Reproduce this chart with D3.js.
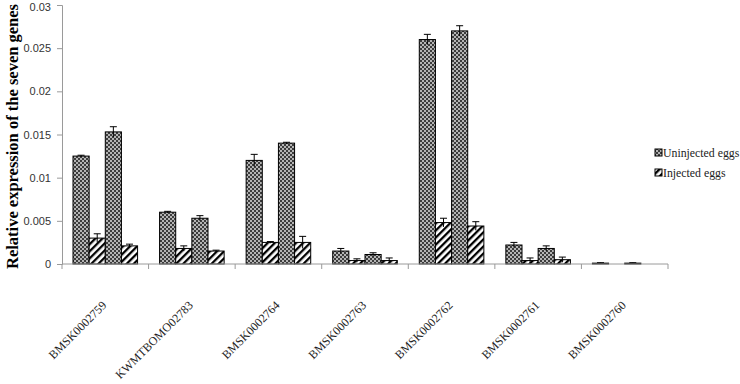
<!DOCTYPE html>
<html><head><meta charset="utf-8">
<script src="https://cdn.jsdelivr.net/npm/d3@7"></script>
<style>body{margin:0;background:#fff}svg{display:block}
.serif{font-family:"Liberation Serif","Times New Roman",serif}
.sans{font-family:"Liberation Sans",Arial,sans-serif}</style>
</head><body>
<svg id="c" width="740" height="384"></svg>
<script>
const genes = ["BMSK0002759","KWMTBOMO02783","BMSK0002764","BMSK0002763","BMSK0002762","BMSK0002761","BMSK0002760"];
// four bars per gene: uninjected, injected, uninjected, injected
const barGroups = ["Uninjected eggs","Injected eggs","Uninjected eggs","Injected eggs"];
const values1 = [0.0125,0.0060,0.0120,0.0015,0.0260,0.0022,0.0001];
const values2 = [0.0030,0.0018,0.0025,0.0004,0.0048,0.0004,0.0000];
const values3 = [0.0153,0.0053,0.0140,0.0011,0.0270,0.0018,0.0001];
const values4 = [0.0021,0.0015,0.0025,0.0004,0.0044,0.0005,0.0000];
const err1 = [0.0001,0.0001,0.0007,0.0003,0.0006,0.0003,0.00005];
const err2 = [0.0005,0.0003,0.0001,0.0002,0.0005,0.0003,0];
const err3 = [0.0006,0.0003,0.0001,0.0002,0.0006,0.0003,0.00005];
const err4 = [0.0002,0.0001,0.0007,0.0003,0.0005,0.0003,0];
const yTicks = [0,0.005,0.01,0.015,0.02,0.025,0.03];
const legendLabels = ["Uninjected eggs","Injected eggs"];

(function(){
const series = [values1,values2,values3,values4];
const errs = [err1,err2,err3,err4];

const svg = d3.select("#c");
const defs = svg.append("defs");
const chk = defs.append("pattern").attr("id","chk").attr("patternUnits","userSpaceOnUse").attr("width",4).attr("height",4);
chk.append("rect").attr("width",4).attr("height",4).attr("fill","#b4b4b4");
chk.append("rect").attr("width",2).attr("height",2).attr("fill","#3c3c3c");
chk.append("rect").attr("x",2).attr("y",2).attr("width",2).attr("height",2).attr("fill","#3c3c3c");
const hatch = defs.append("pattern").attr("id","hatch").attr("patternUnits","userSpaceOnUse").attr("width",5).attr("height",5).attr("patternTransform","rotate(45)");
hatch.append("rect").attr("width",5).attr("height",5).attr("fill","#fff");
hatch.append("rect").attr("width",2.3).attr("height",5).attr("fill","#000");

const fills = ["url(#chk)","url(#hatch)","url(#chk)","url(#hatch)"];

const mL = 62, mR = 668, mT = 5, mB = 264;
const x = d3.scaleBand().domain(genes).range([mL,mR]).paddingInner(0).paddingOuter(0);
const xi = d3.scaleBand().domain([0,1,2,3]).range([11, x.bandwidth()-11]);
const y = d3.scaleLinear().domain([0,0.03]).range([mB,mT]);

series.forEach((vals,si)=>{
  svg.append("g").selectAll("rect").data(genes).join("rect")
    .attr("x",g=>x(g)+xi(si))
    .attr("y",(g,i)=>y(vals[i]))
    .attr("width",xi.bandwidth())
    .attr("height",(g,i)=>y(0)-y(vals[i]))
    .attr("fill",fills[si]).attr("stroke","#000").attr("stroke-width",1);
  const eg = svg.append("g").attr("stroke","#000").attr("stroke-width",1);
  genes.forEach((g,i)=>{
    const e = errs[si][i]; if(!e) return;
    const cx = x(g)+xi(si)+xi.bandwidth()/2;
    eg.append("line").attr("x1",cx).attr("x2",cx).attr("y1",y(vals[i]-e)).attr("y2",y(vals[i]+e));
    eg.append("line").attr("x1",cx-3.5).attr("x2",cx+3.5).attr("y1",y(vals[i]+e)).attr("y2",y(vals[i]+e));
  });
});

const ya = svg.append("g").attr("transform",`translate(${mL},0)`)
  .call(d3.axisLeft(y).tickValues(yTicks).tickFormat(d=>d===0?"0":String(+d.toFixed(3))).tickSize(5).tickPadding(6));
ya.attr("font-family",null).attr("font-size",null);
ya.select(".domain").attr("stroke","#9a9a9a");
ya.selectAll(".tick line").attr("stroke","#9a9a9a");
ya.selectAll("text").attr("class","sans").style("font-size","11px").attr("fill","#333")
  .attr("dy",d=>d===0.03?"0.5em":"0.32em");

const xa = svg.append("g").attr("transform",`translate(0,${mB})`);
xa.append("line").attr("x1",mL).attr("x2",mR).attr("stroke","#9a9a9a");
xa.selectAll("line.t").data(genes.map(g=>x(g)).concat([mR])).join("line").attr("class","t")
  .attr("x1",d=>d).attr("x2",d=>d).attr("y1",0).attr("y2",5).attr("stroke","#9a9a9a");
svg.append("g").selectAll("text").data(genes).join("text")
  .attr("class","serif")
  .attr("transform",g=>`translate(${x(g)+x.bandwidth()/2+2},${mB+42}) rotate(-45)`)
  .attr("text-anchor","end").style("font-size","12px").attr("fill","#222")
  .text(g=>g);

svg.append("text").attr("class","serif").attr("transform",`translate(18,${(mT+mB)/2+2}) rotate(-90)`)
  .attr("text-anchor","middle").style("font-weight","bold").style("font-size","16.5px")
  .text("Relative expression  of the seven genes");

const lg = svg.append("g");
legendLabels.forEach((l,i)=>{
  const ly = 155 + i*20;
  lg.append("rect").attr("x",655).attr("y",ly-6).attr("width",7).attr("height",7).attr("fill",fills[i]).attr("stroke","#000").attr("stroke-width",1);
  lg.append("text").attr("class","serif").attr("x",663).attr("y",ly+1.5).style("font-size","11.8px").attr("fill","#222").text(l);
});
})();
</script>
</body></html>
